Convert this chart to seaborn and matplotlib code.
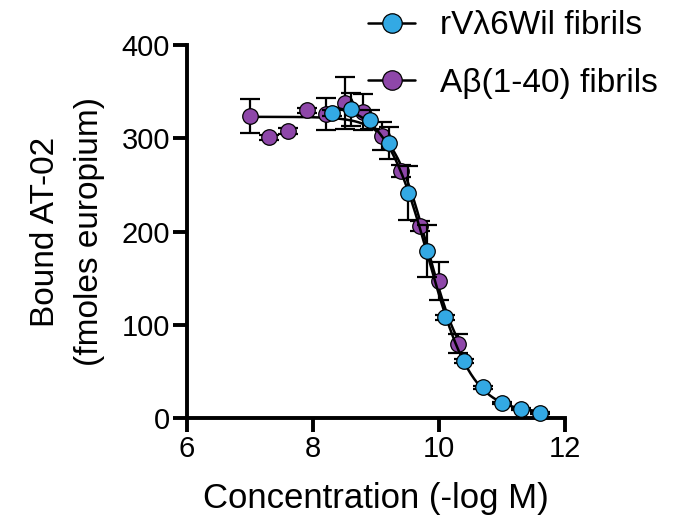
import matplotlib
matplotlib.use('Agg')
import matplotlib.pyplot as plt
import seaborn as sns
import pandas as pd
import numpy as np

sns.set_theme(style='white')
plt.rcParams['font.family'] = ['Liberation Sans', 'DejaVu Sans']
plt.rcParams['text.color'] = 'black'
plt.rcParams['axes.labelcolor'] = 'black'

series_names = ['rVλ6Wil fibrils', 'Aβ(1-40) fibrils']
series_colors = ['#33A9E4', '#8E47A9']

# -log M
wil_x = [8.3, 8.6, 8.9, 9.2, 9.5, 9.8, 10.1, 10.4, 10.7, 11.0, 11.3, 11.6]
wil_y = [327, 331, 320, 295, 241, 179, 108, 61, 33, 16, 10, 6]
wil_err = [3, 18, 10, 17, 29, 28, 3, 2, 2, 1, 1, 1]

abeta_x = [7.0, 7.3, 7.6, 7.9, 8.2, 8.5, 8.8, 9.1, 9.4, 9.7, 10.0, 10.3]
abeta_y = [324, 301, 308, 330, 326, 338, 328, 302, 265, 206, 147, 80]
abeta_err = [18, 3, 3, 3, 17, 28, 19, 15, 6, 5, 20, 10]

x_ticks = [6, 8, 10, 12]
y_ticks = [0, 100, 200, 300, 400]


def fit_sigmoid(x, y):
    # 4-parameter logistic, grid over midpoint/slope, top/bottom by least squares
    x = np.asarray(x, float)
    y = np.asarray(y, float)
    best = None
    for c in np.linspace(9.0, 11.0, 201):
        for h in np.linspace(0.5, 4.0, 141):
            s = 1.0 / (1.0 + 10 ** ((x - c) * h))
            A = np.column_stack([1 - s, s])
            coef, *_ = np.linalg.lstsq(A, y, rcond=None)
            res = np.sum((A @ coef - y) ** 2)
            if best is None or res < best[0]:
                best = (res, c, h, coef)
    _, c, h, (bottom, top) = best
    return lambda t: bottom + (top - bottom) / (1.0 + 10 ** ((t - c) * h))


fig = plt.figure(figsize=(6.92, 5.3), dpi=100)
ax = fig.add_axes([0.270, 0.211, 0.547, 0.704])

data = [(abeta_x, abeta_y, abeta_err, series_names[1], series_colors[1]),
        (wil_x, wil_y, wil_err, series_names[0], series_colors[0])]

for i, (xs, ys, es, name, col) in enumerate(data):
    f = fit_sigmoid(xs, ys)
    xf = np.linspace(min(xs), max(xs), 200)
    fit_df = pd.DataFrame({'x': xf, 'y': f(xf)})
    sns.lineplot(data=fit_df, x='x', y='y', ax=ax, color='black', lw=1.8,
                 zorder=2 + i * 3)
    ax.errorbar(xs, ys, yerr=es, fmt='none', ecolor='black', elinewidth=1.6,
                capsize=7, capthick=1.6, zorder=3 + i * 3, clip_on=False)
    pts = pd.DataFrame({'x': xs, 'y': ys})
    sns.scatterplot(data=pts, x='x', y='y', ax=ax, color=col, s=125,
                    edgecolor='black', linewidth=0.9, zorder=4 + i * 3,
                    clip_on=False)

ax.set_xlim(6, 12)
ax.set_ylim(0, 400)
ax.set_xticks(x_ticks)
ax.set_yticks(y_ticks)
for s in ['top', 'right']:
    ax.spines[s].set_visible(False)
for s in ['left', 'bottom']:
    ax.spines[s].set_linewidth(2.8)
    ax.spines[s].set_color('black')
ax.tick_params(axis='both', which='major', length=10, width=2.8, labelsize=21,
               color='black', labelcolor='black', direction='out',
               bottom=True, left=True, pad=2)
ax.set_xlabel('Concentration (-log M)', fontsize=25, labelpad=14)
ax.set_ylabel('Bound AT-02\n(fmoles europium)', fontsize=24, labelpad=12,
              linespacing=1.55)

handles = [plt.Line2D([], [], color='black', lw=1.8, marker='o', markersize=14,
                      markerfacecolor=c, markeredgecolor='black', markeredgewidth=0.9)
           for c in series_colors]
fig.legend(handles, series_names, loc='upper left', bbox_to_anchor=(0.525, 0.99),
           frameon=False, fontsize=24, handlelength=1.4, labelspacing=0.8,
           handletextpad=0.75, borderpad=0.15, borderaxespad=0)

plt.savefig('out.png', dpi=100)
plt.close()
